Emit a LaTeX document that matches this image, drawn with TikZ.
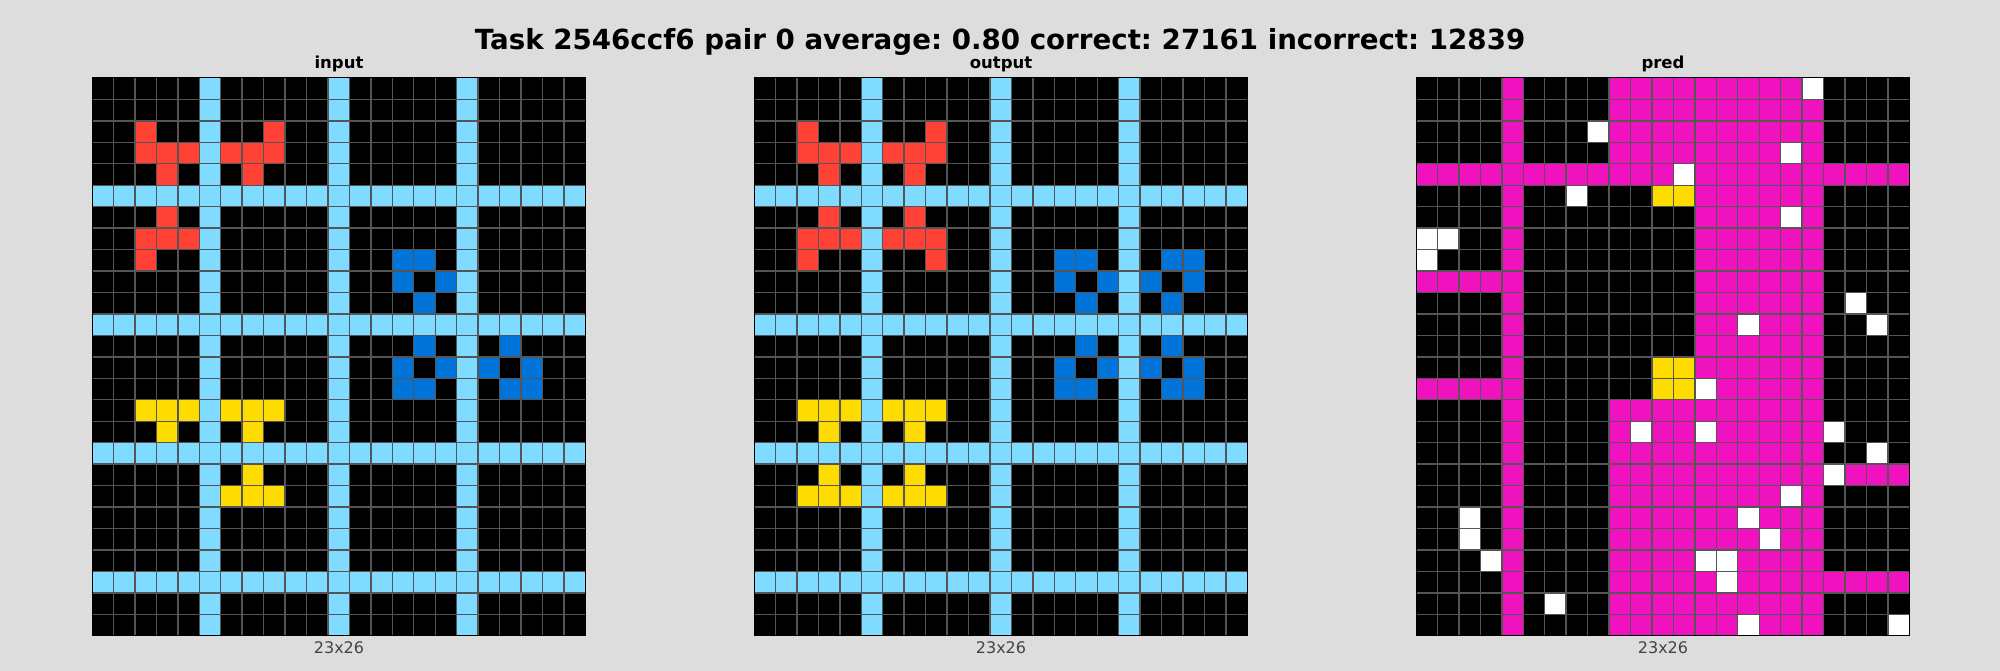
\documentclass[tikz,border=0pt]{standalone}
\usepackage{fontspec}
\setmainfont{DejaVu Sans}
\frenchspacing
\definecolor{arcbg}{HTML}{DDDDDD}
\definecolor{arcblue}{HTML}{0074D9}
\definecolor{arcred}{HTML}{FF4136}
\definecolor{arcyellow}{HTML}{FFDC00}
\definecolor{arcmagenta}{HTML}{F012BE}
\definecolor{arccyan}{HTML}{7FDBFF}
\definecolor{arcline}{HTML}{555555}
\definecolor{arclabel}{HTML}{444444}
\usetikzlibrary{positioning}
\newcommand{\cs}{21.45}

\begin{document}
\begin{tikzpicture}[x=1pt,y=-1pt,
  gridtitle/.style={font=\bfseries\fontsize{16.5}{20}\selectfont,anchor=base},
  gridsize/.style={font=\fontsize{16}{19}\selectfont,text=arclabel,anchor=base},
  cellline/.style={draw=arcline,line width=1.4pt},
  gridframe/.style={draw=black,line width=1pt}
]
  \fill[arcbg] (0,0) rectangle (2000,671);
  \useasboundingbox (0,0) rectangle (2000,671);
  % Title
  \node[font=\bfseries\fontsize{27.7}{33}\selectfont,anchor=base] (title) at (1000,50)
    {Task 2546ccf6 pair 0 average: 0.80 correct: 27161 incorrect: 12839};
  % Black backgrounds
  \foreach \gx in {92,754,1416}
    \fill[black] (\gx,78) rectangle ({\gx+23*\cs},{78+26*\cs});
  % Input and output: shared cells
  \foreach \gx in {92,754} {
    \foreach \c in {5,11,17}
      \fill[arccyan] ({\gx+\c*\cs},78) rectangle ({\gx+(\c+1)*\cs},{78+26*\cs});
    \foreach \r in {5,11,17,23}
      \fill[arccyan] (\gx,{78+\r*\cs}) rectangle ({\gx+23*\cs},{78+(\r+1)*\cs});
    \foreach \c/\r in {2/2,8/2,2/3,3/3,4/3,6/3,7/3,8/3,3/4,7/4,3/6,2/7,3/7,4/7,2/8}
      \fill[arcred] ({\gx+\c*\cs},{78+\r*\cs}) rectangle ++(\cs,\cs);
    \foreach \c/\r in {14/8,15/8,14/9,16/9,15/10,15/12,19/12,14/13,16/13,18/13,20/13,14/14,15/14,19/14,20/14}
      \fill[arcblue] ({\gx+\c*\cs},{78+\r*\cs}) rectangle ++(\cs,\cs);
    \foreach \c/\r in {2/15,3/15,4/15,6/15,7/15,8/15,3/16,7/16,7/18,6/19,7/19,8/19}
      \fill[arcyellow] ({\gx+\c*\cs},{78+\r*\cs}) rectangle ++(\cs,\cs);
  }
  % Output: completed shapes
  \foreach \c/\r in {7/6,6/7,7/7,8/7,8/8}
    \fill[arcred] ({754+\c*\cs},{78+\r*\cs}) rectangle ++(\cs,\cs);
  \foreach \c/\r in {19/8,20/8,18/9,20/9,19/10}
    \fill[arcblue] ({754+\c*\cs},{78+\r*\cs}) rectangle ++(\cs,\cs);
  \foreach \c/\r in {3/18,2/19,3/19,4/19}
    \fill[arcyellow] ({754+\c*\cs},{78+\r*\cs}) rectangle ++(\cs,\cs);
  % Pred: magenta blocks (col a..b, row p..q)
  \foreach \a/\b/\p/\q in {4/4/0/25,9/17/0/0,9/18/1/3,0/22/4/4,13/18/5/14,0/3/9/9,0/3/14/14,
                           9/18/15/25,20/22/18/18,19/22/23/23}
    \fill[arcmagenta] ({1416+\a*\cs},{78+\p*\cs}) rectangle ({1416+(\b+1)*\cs},{78+(\q+1)*\cs});
  \foreach \c/\r in {11/5,12/5,11/13,12/13,11/14,12/14}
    \fill[arcyellow] ({1416+\c*\cs},{78+\r*\cs}) rectangle ++(\cs,\cs);
  \foreach \c/\r in {18/0,8/2,17/3,12/4,7/5,17/6,0/7,1/7,0/8,20/10,15/11,21/11,13/14,10/16,13/16,
                     19/16,21/17,19/18,17/19,2/20,15/20,2/21,16/21,3/22,13/22,14/22,14/23,6/24,15/25,22/25}
    \fill[white] ({1416+\c*\cs},{78+\r*\cs}) rectangle ++(\cs,\cs);
  % Cell lines and frames
  \foreach \gx in {92,754,1416} {
    \foreach \i in {1,...,22}
      \draw[cellline] ({\gx+\i*\cs},78) -- ({\gx+\i*\cs},{78+26*\cs});
    \foreach \j in {1,...,25}
      \draw[cellline] (\gx,{78+\j*\cs}) -- ({\gx+23*\cs},{78+\j*\cs});
    \draw[gridframe] (\gx,78) rectangle ({\gx+23*\cs},{78+26*\cs});
  }
  % Grid labels
  \node[gridtitle] (intitle) at (339,69) {input};
  \node[gridtitle] (outtitle) at (1001,69) {output};
  \node[gridtitle] (predtitle) at (1663,69) {pred};
  \node[gridsize] (insize) at (339,653) {23x26};
  \node[gridsize] (outsize) at (1001,653) {23x26};
  \node[gridsize] (predsize) at (1663,653) {23x26};
\end{tikzpicture}
\end{document}
